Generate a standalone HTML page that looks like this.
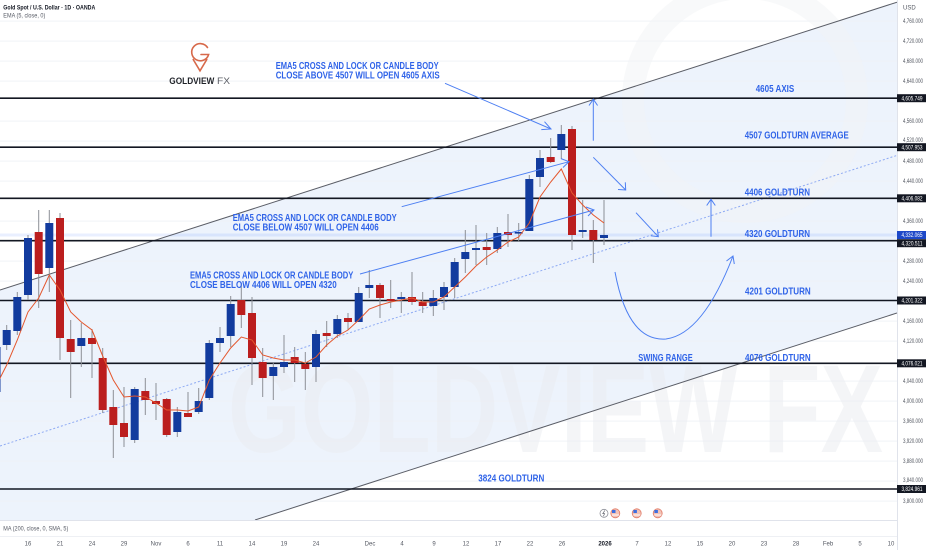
<!DOCTYPE html>
<html><head><meta charset="utf-8"><style>
html,body{margin:0;padding:0;background:#fff;}
svg{display:block;}
text{font-family:"Liberation Sans",Arial,sans-serif;}
</style></head><body>
<svg width="932" height="550" viewBox="0 0 932 550" xmlns="http://www.w3.org/2000/svg">
<defs><clipPath id="pane"><rect x="0" y="0" width="897" height="520"/></clipPath></defs>
<rect width="932" height="550" fill="#fff"/>
<g clip-path="url(#pane)">
<!-- channel fill -->
<polygon points="0,290 897,2.2 897,313 255,520 0,520" fill="#edf3fc"/>
<!-- grid -->
<g stroke="#eef1f7" stroke-width="1" opacity="0.9">
<line x1="0" y1="21.1" x2="897" y2="21.1"/><line x1="0" y1="41.1" x2="897" y2="41.1"/><line x1="0" y1="61.1" x2="897" y2="61.1"/><line x1="0" y1="81.1" x2="897" y2="81.1"/><line x1="0" y1="121.1" x2="897" y2="121.1"/><line x1="0" y1="141.1" x2="897" y2="141.1"/><line x1="0" y1="161.1" x2="897" y2="161.1"/><line x1="0" y1="181.1" x2="897" y2="181.1"/><line x1="0" y1="221.1" x2="897" y2="221.1"/><line x1="0" y1="261.1" x2="897" y2="261.1"/><line x1="0" y1="281.1" x2="897" y2="281.1"/><line x1="0" y1="321.1" x2="897" y2="321.1"/><line x1="0" y1="341.1" x2="897" y2="341.1"/><line x1="0" y1="381.1" x2="897" y2="381.1"/><line x1="0" y1="401.1" x2="897" y2="401.1"/><line x1="0" y1="421.1" x2="897" y2="421.1"/><line x1="0" y1="441.1" x2="897" y2="441.1"/><line x1="0" y1="461.1" x2="897" y2="461.1"/><line x1="0" y1="481.1" x2="897" y2="481.1"/><line x1="0" y1="501.1" x2="897" y2="501.1"/>
</g>
<!-- watermark -->
<circle cx="745" cy="100" r="112" fill="none" stroke="#f2f3f6" stroke-width="22" opacity="0.5"/>
<text x="228" y="452" font-size="125" font-weight="bold" textLength="655" lengthAdjust="spacingAndGlyphs" fill="#ebedf1" opacity="0.5">GOLDVIEW FX</text>
<!-- current price band -->
<rect x="0" y="233.5" width="897" height="3" fill="#2962ff" opacity="0.10"/>
<!-- channel lines -->
<line x1="0" y1="290" x2="897" y2="2.2" stroke="#5a5d66" stroke-width="1"/>
<line x1="255" y1="520" x2="897" y2="313" stroke="#5a5d66" stroke-width="1"/>
<line x1="0" y1="446" x2="897" y2="155.4" stroke="#8eaaf3" stroke-width="1" stroke-dasharray="2,2"/>
<!-- horizontal levels -->
<g stroke="#131722" stroke-width="1.6">
<line x1="0" y1="98.2" x2="897" y2="98.2"/>
<line x1="0" y1="147.2" x2="897" y2="147.2"/>
<line x1="0" y1="198.3" x2="897" y2="198.3"/>
<line x1="0" y1="240.7" x2="897" y2="240.7"/>
<line x1="0" y1="300.5" x2="897" y2="300.5"/>
<line x1="0" y1="363.3" x2="897" y2="363.3"/>
<line x1="0" y1="489" x2="897" y2="489"/>
</g>
<!-- candles: wicks -->
<g stroke="#8c8f96" stroke-width="1">
<line x1="-3.5" y1="340" x2="-3.5" y2="395"/><line x1="6.7" y1="325" x2="6.7" y2="350"/><line x1="17.3" y1="292" x2="17.3" y2="335"/><line x1="28" y1="235" x2="28" y2="300"/><line x1="38.7" y1="210" x2="38.7" y2="308"/><line x1="49.3" y1="210" x2="49.3" y2="292"/><line x1="60" y1="213" x2="60" y2="360"/><line x1="70.7" y1="320" x2="70.7" y2="398"/><line x1="81.3" y1="323" x2="81.3" y2="367"/><line x1="92" y1="329" x2="92" y2="378"/><line x1="102.7" y1="348" x2="102.7" y2="413"/><line x1="113.3" y1="390" x2="113.3" y2="458"/><line x1="124" y1="387" x2="124" y2="447"/><line x1="134.7" y1="387" x2="134.7" y2="443"/><line x1="145.3" y1="378" x2="145.3" y2="415"/><line x1="156" y1="383" x2="156" y2="420"/><line x1="166.7" y1="398" x2="166.7" y2="437"/><line x1="177.3" y1="407" x2="177.3" y2="437"/><line x1="188" y1="392" x2="188" y2="417"/><line x1="198.7" y1="388" x2="198.7" y2="414"/><line x1="209.3" y1="340" x2="209.3" y2="400"/><line x1="220" y1="327" x2="220" y2="352"/><line x1="230.7" y1="296" x2="230.7" y2="347"/><line x1="241.3" y1="283" x2="241.3" y2="328"/><line x1="252" y1="297" x2="252" y2="385"/><line x1="262.7" y1="348" x2="262.7" y2="397"/><line x1="273.3" y1="362" x2="273.3" y2="400"/><line x1="284" y1="335" x2="284" y2="373"/><line x1="294.7" y1="347" x2="294.7" y2="382"/><line x1="305.3" y1="352" x2="305.3" y2="390"/><line x1="316" y1="330" x2="316" y2="382"/><line x1="326.7" y1="321" x2="326.7" y2="347"/><line x1="337.3" y1="315" x2="337.3" y2="338"/><line x1="348" y1="313" x2="348" y2="330"/><line x1="358.7" y1="287" x2="358.7" y2="322"/><line x1="369.3" y1="270" x2="369.3" y2="298"/><line x1="380" y1="283" x2="380" y2="318"/><line x1="390.7" y1="280" x2="390.7" y2="308"/><line x1="401.3" y1="292" x2="401.3" y2="313"/><line x1="412" y1="272" x2="412" y2="305"/><line x1="422.7" y1="292" x2="422.7" y2="313"/><line x1="433.3" y1="290" x2="433.3" y2="316"/><line x1="444" y1="282" x2="444" y2="310"/><line x1="454.7" y1="258" x2="454.7" y2="298"/><line x1="465.3" y1="230" x2="465.3" y2="273"/><line x1="476" y1="225" x2="476" y2="265"/><line x1="486.7" y1="233" x2="486.7" y2="265"/><line x1="497.3" y1="227" x2="497.3" y2="253"/><line x1="508" y1="214" x2="508" y2="247"/><line x1="518.7" y1="223" x2="518.7" y2="242"/><line x1="529.3" y1="175" x2="529.3" y2="231"/><line x1="540" y1="150" x2="540" y2="187"/><line x1="550.7" y1="138" x2="550.7" y2="163"/><line x1="561.3" y1="125" x2="561.3" y2="159"/><line x1="572" y1="126" x2="572" y2="250"/><line x1="582.7" y1="200" x2="582.7" y2="238"/><line x1="593.3" y1="220" x2="593.3" y2="263"/><line x1="604" y1="200" x2="604" y2="245"/>
</g>
<!-- candle bodies blue -->
<g fill="#123b9e">
<rect x="-7.5" y="347" width="8" height="45"/><rect x="2.7" y="330" width="8" height="15"/><rect x="13.3" y="297" width="8" height="34"/><rect x="24" y="238" width="8" height="57"/><rect x="45.3" y="223" width="8" height="45"/><rect x="77.3" y="338" width="8" height="8"/><rect x="130.7" y="389" width="8" height="51"/><rect x="173.3" y="412" width="8" height="20"/><rect x="194.7" y="401" width="8" height="11"/><rect x="205.3" y="343" width="8" height="55"/><rect x="216" y="338" width="8" height="5"/><rect x="226.7" y="304" width="8" height="32"/><rect x="269.3" y="367" width="8" height="9"/><rect x="280" y="362" width="8" height="5"/><rect x="312" y="334" width="8" height="33"/><rect x="333.3" y="319" width="8" height="15"/><rect x="354.7" y="293" width="8" height="29"/><rect x="365.3" y="285" width="8" height="3"/><rect x="397.3" y="297" width="8" height="2"/><rect x="429.3" y="298" width="8" height="8"/><rect x="440" y="287" width="8" height="10"/><rect x="450.7" y="262" width="8" height="25"/><rect x="461.3" y="252" width="8" height="7"/><rect x="472" y="248" width="8" height="2"/><rect x="493.3" y="233" width="8" height="16"/><rect x="514.7" y="232" width="8" height="1.6"/><rect x="525.3" y="179" width="8" height="52"/><rect x="536" y="158" width="8" height="19"/><rect x="557.3" y="134" width="8" height="16"/><rect x="578.7" y="230" width="8" height="2"/><rect x="600" y="235" width="8" height="3"/>
</g>
<!-- candle bodies red -->
<g fill="#bb1e1e">
<rect x="34.7" y="232" width="8" height="42"/><rect x="56" y="218" width="8" height="120"/><rect x="66.7" y="339" width="8" height="13"/><rect x="88" y="338" width="8" height="6"/><rect x="98.7" y="358" width="8" height="52"/><rect x="109.3" y="407" width="8" height="18"/><rect x="120" y="423" width="8" height="14"/><rect x="141.3" y="391" width="8" height="9"/><rect x="152" y="401" width="8" height="3"/><rect x="162.7" y="399" width="8" height="36"/><rect x="184" y="413" width="8" height="4"/><rect x="237.3" y="300" width="8" height="15"/><rect x="248" y="313" width="8" height="45"/><rect x="258.7" y="362" width="8" height="16"/><rect x="290.7" y="357" width="8" height="6"/><rect x="301.3" y="364" width="8" height="5"/><rect x="322.7" y="333" width="8" height="3"/><rect x="344" y="318" width="8" height="4"/><rect x="376" y="285" width="8" height="13"/><rect x="386.7" y="299" width="8" height="2"/><rect x="408" y="297" width="8" height="5"/><rect x="418.7" y="302" width="8" height="4"/><rect x="482.7" y="247" width="8" height="3"/><rect x="504" y="232" width="8" height="3"/><rect x="546.7" y="157" width="8" height="5"/><rect x="568" y="129" width="8" height="106"/><rect x="589.3" y="230" width="8" height="10"/>
</g>
<!-- EMA -->
<polyline fill="none" stroke="#e4572e" stroke-width="1" points="-3.5,385 6.7,365 17.3,340 28,312 38.7,298 49.3,275 60,290 70.7,312 81.3,322 92,330 102.7,356 113.3,380 124,397 134.7,396 145.3,397 156,403 166.7,410 177.3,410 188,411 198.7,407 209.3,380 220,363 230.7,348 241.3,337 252,340 262.7,355 273.3,358 284,360 294.7,360 305.3,363 316,357 326.7,345 337.3,336 348,330 358.7,320 369.3,309 380,305 390.7,302 401.3,300 412,298 422.7,302 433.3,302 444,297 454.7,287 465.3,277 476,266 486.7,257 497.3,250 508,242 518.7,237 529.3,223 540,197 550.7,182 561.3,169 572,193 582.7,205 593.3,215 604,223"/>
<!-- arrows -->
<g stroke="#4d7ff2" stroke-width="1" fill="none">
<line x1="445" y1="83.3" x2="551" y2="129"/><polyline points="544.5,121.7 551,129 541.3,129.6"/>
<line x1="401.7" y1="206.7" x2="569" y2="161.7"/><polyline points="561,158.6 569,161.7 563,167.5"/>
<line x1="360" y1="274" x2="594" y2="210"/><polyline points="586,207 594,210 588,216"/>
<line x1="593.3" y1="140.7" x2="593.3" y2="99.3"/><polyline points="589,105.5 593.3,99.3 597.6,105.5"/>
<line x1="593.3" y1="157.3" x2="625.7" y2="190"/><polyline points="618,189.5 625.7,190 625.3,182.3"/>
<line x1="636" y1="212.7" x2="658.3" y2="236.7"/><polyline points="650.8,235.7 658.3,236.7 657.5,229.3"/>
<line x1="711" y1="236.7" x2="711" y2="199.3"/><polyline points="706.7,205.5 711,199.3 715.3,205.5"/>
<path d="M615,272 Q628,342 666,339 Q703,334 733,256"/><polyline points="726.5,261 733,256 734.3,264"/>
</g>
<!-- annotations -->
<g fill="#2f63e8" font-weight="bold" font-size="10">
<text x="275.7" y="69" textLength="163" lengthAdjust="spacingAndGlyphs">EMA5 CROSS AND LOCK OR CANDLE BODY</text>
<text x="275.7" y="78.4" textLength="164" lengthAdjust="spacingAndGlyphs">CLOSE ABOVE 4507 WILL OPEN 4605 AXIS</text>
<text x="232.7" y="221" textLength="164" lengthAdjust="spacingAndGlyphs">EMA5 CROSS AND LOCK OR CANDLE BODY</text>
<text x="232.7" y="230.4" textLength="146" lengthAdjust="spacingAndGlyphs">CLOSE BELOW 4507 WILL OPEN 4406</text>
<text x="190" y="278.7" textLength="163.3" lengthAdjust="spacingAndGlyphs">EMA5 CROSS AND LOCK OR CANDLE BODY</text>
<text x="190" y="288" textLength="146.7" lengthAdjust="spacingAndGlyphs">CLOSE BELOW 4406 WILL OPEN 4320</text>
<text x="755.7" y="92" textLength="38.6" lengthAdjust="spacingAndGlyphs">4605 AXIS</text>
<text x="744.7" y="138.7" textLength="104" lengthAdjust="spacingAndGlyphs">4507 GOLDTURN AVERAGE</text>
<text x="744.7" y="195.4" textLength="65.3" lengthAdjust="spacingAndGlyphs">4406 GOLDTURN</text>
<text x="744.7" y="237" textLength="65.3" lengthAdjust="spacingAndGlyphs">4320 GOLDTURN</text>
<text x="745" y="294.4" textLength="65.7" lengthAdjust="spacingAndGlyphs">4201 GOLDTURN</text>
<text x="638.3" y="361" textLength="54.4" lengthAdjust="spacingAndGlyphs">SWING RANGE</text>
<text x="745" y="361" textLength="65.7" lengthAdjust="spacingAndGlyphs">4076 GOLDTURN</text>
<text x="478.3" y="481.4" textLength="66" lengthAdjust="spacingAndGlyphs">3824 GOLDTURN</text>
</g>
<!-- event icons -->
<g>
<circle cx="604" cy="513.3" r="4" fill="#fff" stroke="#8a8d96" stroke-width="0.8"/>
<path d="M604.8,510.5 L602.8,513.6 L604.6,513.6 L603.4,516.2" stroke="#6a6d76" stroke-width="0.7" fill="none"/>
<g><circle cx="615.3" cy="513.3" r="4.5" fill="#f3c2b6" stroke="#e07a66" stroke-width="0.8"/><rect x="612" y="510" width="3.5" height="3" fill="#3d6fe0"/><line x1="612" y1="515" x2="619" y2="515" stroke="#fff" stroke-width="1"/></g>
<g><circle cx="636.7" cy="513.3" r="4.5" fill="#f3c2b6" stroke="#e07a66" stroke-width="0.8"/><rect x="633.4" y="510" width="3.5" height="3" fill="#3d6fe0"/><line x1="633.4" y1="515" x2="640.4" y2="515" stroke="#fff" stroke-width="1"/></g>
<g><circle cx="657.7" cy="513.3" r="4.5" fill="#f3c2b6" stroke="#e07a66" stroke-width="0.8"/><rect x="654.4" y="510" width="3.5" height="3" fill="#3d6fe0"/><line x1="654.4" y1="515" x2="661.4" y2="515" stroke="#fff" stroke-width="1"/></g>
</g>
</g>
<!-- header -->
<text x="3.3" y="9.7" font-size="6" font-weight="bold" fill="#131722" textLength="92" lengthAdjust="spacingAndGlyphs">Gold Spot / U.S. Dollar · 1D · OANDA</text>
<text x="3.3" y="17.7" font-size="6" fill="#555963" textLength="42" lengthAdjust="spacingAndGlyphs">EMA (5, close, 0)</text>
<!-- logo -->
<g fill="none" stroke="#d7694a" stroke-width="1.6" stroke-linecap="round">
<path d="M207.5,47.5 A8.6,8.6 0 1 0 208.6,54.5 L201,54.5"/>
<path d="M193.2,59.5 L200,70.8 L206.8,59.5"/>
</g>
<text x="169.3" y="84" font-size="9.3" font-weight="bold" fill="#1f2228" textLength="45" lengthAdjust="spacingAndGlyphs">GOLDVIEW</text>
<text x="217" y="84" font-size="9.3" fill="#5c5f66" textLength="13" lengthAdjust="spacingAndGlyphs">FX</text>
<!-- pane separators -->
<line x1="0" y1="520.5" x2="897" y2="520.5" stroke="#e0e3eb" stroke-width="1"/>
<line x1="0" y1="536.5" x2="897" y2="536.5" stroke="#eef0f4" stroke-width="1"/>
<text x="3.3" y="530.3" font-size="6" fill="#555963" textLength="65" lengthAdjust="spacingAndGlyphs">MA (200, close, 0, SMA, 5)</text>
<!-- price axis -->
<line x1="897.5" y1="0" x2="897.5" y2="550" stroke="#e0e3eb" stroke-width="1"/>
<g font-size="6" fill="#555963">
<text x="903" y="9.3">USD</text>
<text x="903" y="23.2" textLength="20" lengthAdjust="spacingAndGlyphs">4,760.000</text>
<text x="903" y="43.2" textLength="20" lengthAdjust="spacingAndGlyphs">4,720.000</text>
<text x="903" y="63.2" textLength="20" lengthAdjust="spacingAndGlyphs">4,680.000</text>
<text x="903" y="83.2" textLength="20" lengthAdjust="spacingAndGlyphs">4,640.000</text>
<text x="903" y="123.2" textLength="20" lengthAdjust="spacingAndGlyphs">4,560.000</text>
<text x="903" y="142.2" textLength="20" lengthAdjust="spacingAndGlyphs">4,520.000</text>
<text x="903" y="163.2" textLength="20" lengthAdjust="spacingAndGlyphs">4,480.000</text>
<text x="903" y="183.2" textLength="20" lengthAdjust="spacingAndGlyphs">4,440.000</text>
<text x="903" y="223.2" textLength="20" lengthAdjust="spacingAndGlyphs">4,360.000</text>
<text x="903" y="263.2" textLength="20" lengthAdjust="spacingAndGlyphs">4,280.000</text>
<text x="903" y="283.2" textLength="20" lengthAdjust="spacingAndGlyphs">4,240.000</text>
<text x="903" y="323.2" textLength="20" lengthAdjust="spacingAndGlyphs">4,160.000</text>
<text x="903" y="343.2" textLength="20" lengthAdjust="spacingAndGlyphs">4,120.000</text>
<text x="903" y="383.2" textLength="20" lengthAdjust="spacingAndGlyphs">4,040.000</text>
<text x="903" y="403.2" textLength="20" lengthAdjust="spacingAndGlyphs">4,000.000</text>
<text x="903" y="423.2" textLength="20" lengthAdjust="spacingAndGlyphs">3,960.000</text>
<text x="903" y="443.2" textLength="20" lengthAdjust="spacingAndGlyphs">3,920.000</text>
<text x="903" y="463.2" textLength="20" lengthAdjust="spacingAndGlyphs">3,880.000</text>
<text x="903" y="482.2" textLength="20" lengthAdjust="spacingAndGlyphs">3,840.000</text>
<text x="903" y="503.2" textLength="20" lengthAdjust="spacingAndGlyphs">3,800.000</text>
</g>
<g>
<rect x="897" y="94.2" width="29" height="8" fill="#131722"/>
<rect x="897" y="143.2" width="29" height="8" fill="#131722"/>
<rect x="897" y="194.3" width="29" height="8" fill="#131722"/>
<rect x="897" y="231" width="29" height="8" fill="#1d48c8"/>
<rect x="897" y="239.2" width="29" height="8" fill="#131722"/>
<rect x="897" y="296.5" width="29" height="8" fill="#131722"/>
<rect x="897" y="359.3" width="29" height="8" fill="#131722"/>
<rect x="897" y="485" width="29" height="8" fill="#131722"/>
</g>
<g font-size="6" fill="#ffffff">
<text x="901.5" y="100.3" textLength="21" lengthAdjust="spacingAndGlyphs">4,605.749</text>
<text x="901.5" y="149.3" textLength="21" lengthAdjust="spacingAndGlyphs">4,507.953</text>
<text x="901.5" y="200.4" textLength="21" lengthAdjust="spacingAndGlyphs">4,406.082</text>
<text x="901.5" y="237.1" textLength="21" lengthAdjust="spacingAndGlyphs">4,332.065</text>
<text x="901.5" y="245.3" textLength="21" lengthAdjust="spacingAndGlyphs">4,320.511</text>
<text x="901.5" y="302.6" textLength="21" lengthAdjust="spacingAndGlyphs">4,201.322</text>
<text x="901.5" y="365.4" textLength="21" lengthAdjust="spacingAndGlyphs">4,076.021</text>
<text x="901.5" y="491.1" textLength="21" lengthAdjust="spacingAndGlyphs">3,824.961</text>
</g>
<!-- time axis -->
<g font-size="6" fill="#555963" text-anchor="middle">
<text x="28" y="545.3">16</text><text x="60" y="545.3">21</text><text x="92" y="545.3">24</text><text x="124" y="545.3">29</text><text x="156" y="545.3">Nov</text><text x="188" y="545.3">6</text><text x="220" y="545.3">11</text><text x="252" y="545.3">14</text><text x="284" y="545.3">19</text><text x="316" y="545.3">24</text><text x="370" y="545.3">Dec</text><text x="402" y="545.3">4</text><text x="434" y="545.3">9</text><text x="466" y="545.3">12</text><text x="498" y="545.3">17</text><text x="530" y="545.3">22</text><text x="562" y="545.3">26</text><text x="605" y="545.3" font-weight="bold" fill="#131722">2026</text><text x="637" y="545.3">7</text><text x="668" y="545.3">12</text><text x="700" y="545.3">15</text><text x="732" y="545.3">20</text><text x="764" y="545.3">23</text><text x="796" y="545.3">28</text><text x="828" y="545.3">Feb</text><text x="860" y="545.3">5</text><text x="891" y="545.3">10</text>
</g>
</svg>
</body></html>
